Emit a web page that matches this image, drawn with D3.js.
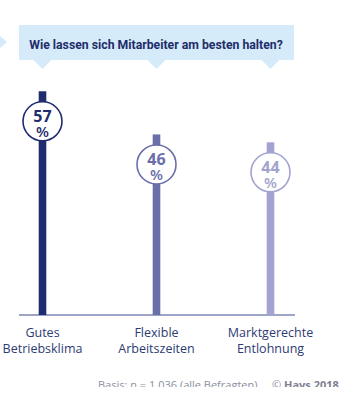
<!DOCTYPE html>
<html><head><meta charset="utf-8">
<script src="https://cdn.jsdelivr.net/npm/d3@7"></script>
<style>body{margin:0;background:#fff}svg{display:block}</style>
</head><body>
<svg id="c" width="340" height="397"></svg>
<script>
const title = "Wie lassen sich Mitarbeiter am besten halten?";
const categories = ["Gutes Betriebsklima", "Flexible Arbeitszeiten", "Marktgerechte Entlohnung"];
const labelLines = [["Gutes", "Betriebsklima"], ["Flexible", "Arbeitszeiten"], ["Marktgerechte", "Entlohnung"]];
const values = [57, 46, 44];
const colors = ["#1f2d6e", "#6a6ea9", "#a2a4cf"];
const footnote = "Basis: n = 1.036 (alle Befragten)";
const source = "Hays 2018";

const svg = d3.select("#c");
const x = d3.scalePoint().domain(categories).range([42.5, 270.5]);
const y = d3.scaleLinear().domain([0, 80]).range([315, 1]);

// banner
svg.append("rect").attr("x", 19).attr("y", 25).attr("width", 275).attr("height", 35).attr("fill", "#d5ebf9");
svg.append("polygon").attr("points", "0,36 7,42 0,48").attr("fill", "#d5ebf9");
svg.selectAll("polygon.tri").data(categories).join("polygon").attr("class", "tri")
  .attr("points", d => `${x(d)-9},60 ${x(d)+9},60 ${x(d)},69`).attr("fill", "#d5ebf9");
const tt = svg.append("text").attr("x", 156).attr("y", 48.5).attr("text-anchor", "middle")
  .attr("font-family", "Roboto").attr("font-weight", 700).attr("font-size", 12.5)
  .attr("fill", "#1f2d6b").text(title);
const tw = tt.node().getComputedTextLength();
tt.attr("font-size", 12.5 * 254 / tw);

// baseline
svg.append("line").attr("x1", 19).attr("x2", 295).attr("y1", y(0)).attr("y2", y(0))
  .attr("stroke", "#3c4a8c").attr("stroke-width", 1);

// bars
const g = svg.selectAll("g.bar").data(categories).join("g").attr("class", "bar");
g.append("rect").attr("x", d => x(d) - 3.8).attr("width", 7.6)
  .attr("y", (d, i) => y(values[i])).attr("height", (d, i) => y(0) - y(values[i]))
  .attr("fill", (d, i) => colors[i]);
g.append("circle").attr("cx", d => x(d)).attr("cy", (d, i) => y(values[i]) + 30).attr("r", 19.5)
  .attr("fill", "#fff").attr("stroke", (d, i) => colors[i]).attr("stroke-width", 1.6);
g.append("text").attr("x", d => x(d)).attr("y", (d, i) => y(values[i]) + 31)
  .attr("text-anchor", "middle").attr("font-family", "Open Sans").attr("font-weight", 700)
  .attr("font-size", 16).attr("fill", (d, i) => colors[i]).text((d, i) => values[i]);
g.append("text").attr("x", d => x(d)).attr("y", (d, i) => y(values[i]) + 46)
  .attr("text-anchor", "middle").attr("font-family", "Open Sans").attr("font-weight", 600)
  .attr("font-size", 15).attr("fill", (d, i) => colors[i]).text("%");

// category labels
const lab = svg.selectAll("text.cat").data(categories).join("text").attr("class", "cat")
  .attr("text-anchor", "middle").attr("font-family", "Open Sans").attr("font-size", 12.5)
  .attr("fill", "#2e3b73");
lab.selectAll("tspan").data((d, i) => labelLines[i].map(t => ({t, d}))).join("tspan")
  .attr("x", o => x(o.d)).attr("y", (o, j) => 337 + j * 15.5).text(o => o.t);

// footer (clipped like the source)
svg.append("clipPath").attr("id", "fc").append("rect").attr("x", 0).attr("y", 370).attr("width", 340).attr("height", 17);
const f = svg.append("g").attr("clip-path", "url(#fc)").attr("font-family", "Open Sans").attr("font-size", 11).attr("fill", "#8c8f9e");
f.append("text").attr("x", 98).attr("y", 389).text(footnote);
const s = f.append("text").attr("x", 272).attr("y", 389);
s.append("tspan").text("© ");
s.append("tspan").attr("font-weight", 700).attr("fill", "#7e8192").text(source);
</script>
</body></html>
